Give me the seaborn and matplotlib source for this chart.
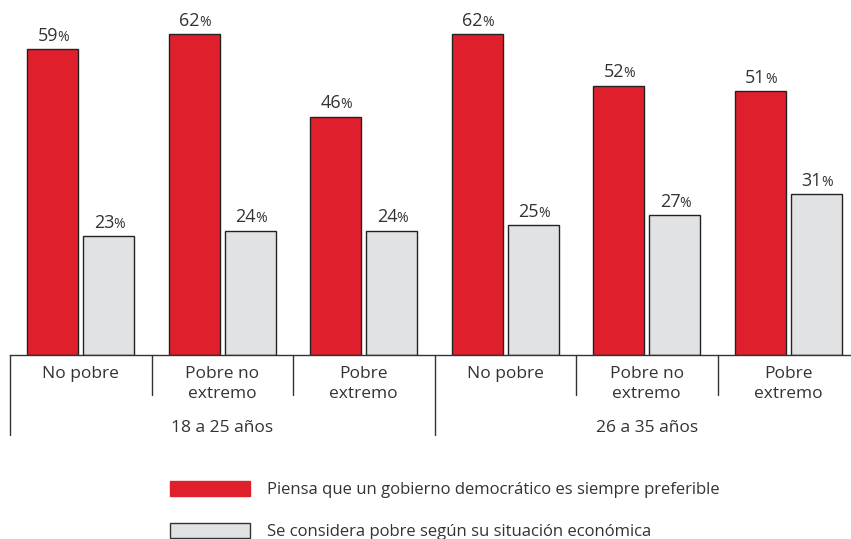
import matplotlib
matplotlib.use("Agg")
import matplotlib.pyplot as plt
import matplotlib.transforms as mtransforms
from matplotlib.patches import Patch
import seaborn as sns
import pandas as pd

# data
categorias = ["No pobre", "Pobre no\nextremo", "Pobre\nextremo",
              "No pobre", "Pobre no\nextremo", "Pobre\nextremo"]
grupos = ["18 a 25 años", "26 a 35 años"]
democracia = [59, 62, 46, 62, 52, 51]
pobre = [23, 24, 24, 25, 27, 31]
series = ["Piensa que un gobierno democrático es siempre preferible",
          "Se considera pobre según su situación económica"]

rojo = "#E01F2D"
gris = "#E1E2E4"
texto = "#333333"

keys = [f"c{i}" for i in range(len(categorias))]
df = pd.DataFrame({
    "cat": keys * 2,
    "serie": [series[0]] * 6 + [series[1]] * 6,
    "valor": democracia + pobre,
})

sns.set_style("white")
plt.rcParams["font.family"] = ["Open Sans", "DejaVu Sans"]

fig = plt.figure(figsize=(8.51, 5.39), dpi=100)
W, H = 851, 539
ax = fig.add_axes([10 / W, 184 / H, 849 / W, 355 / H])

sns.barplot(data=df, x="cat", y="valor", hue="serie", order=keys,
            hue_order=series, palette=[rojo, gris], saturation=1,
            width=0.792, gap=0.09, edgecolor="#222222", linewidth=1,
            ax=ax, legend=False)

ax.set_xlim(-0.5, 5.5)
ax.set_ylim(0, 68.5)
ax.set_xlabel("")
ax.set_ylabel("")
ax.set_xticks([])
ax.set_yticks([])
for s in ["top", "right", "left"]:
    ax.spines[s].set_visible(False)
ax.spines["bottom"].set_color("#333333")
ax.spines["bottom"].set_linewidth(1)

# value labels with a smaller % sign
for cont in ax.containers:
    for bar in cont:
        v = bar.get_height()
        xc = bar.get_x() + bar.get_width() / 2
        ax.annotate(f"{v:.0f}", (xc, v), xytext=(4, 3), textcoords="offset points",
                    ha="right", va="bottom", fontsize=13, color=texto)
        ax.annotate("%", (xc, v), xytext=(3.3, 3), textcoords="offset points",
                    ha="left", va="bottom", fontsize=10, color=texto)

trans = mtransforms.blended_transform_factory(ax.transData, ax.transAxes)
px = 1 / 355
for i, lab in enumerate(categorias):
    ax.text(i, -11 * px, lab, transform=trans, ha="center", va="top",
            fontsize=12.5, color=texto, linespacing=1.32)

for x in [0.5, 1.5, 3.5, 4.5]:
    ax.plot([x, x], [0, -40 * px], transform=trans, color="#333333",
            lw=1, clip_on=False)
for x in [-0.5, 2.5]:
    ax.plot([x, x], [0, -80 * px], transform=trans, color="#333333",
            lw=1, clip_on=False)

for g, lab in enumerate(grupos):
    ax.text(g * 3 + 1, -73 * px, lab, transform=trans, ha="center",
            va="center", fontsize=12.5, color=texto)

handles = [Patch(facecolor=rojo, edgecolor=rojo),
           Patch(facecolor=gris, edgecolor="#333333", linewidth=1)]
fig.legend(handles, series, loc="upper left", bbox_to_anchor=(155 / W, 1 - 466 / H),
           frameon=False, fontsize=12, handlelength=4.8, handleheight=1.0,
           handletextpad=1.0, labelspacing=1.5, labelcolor=texto)

fig.savefig("out.png", dpi=100)
